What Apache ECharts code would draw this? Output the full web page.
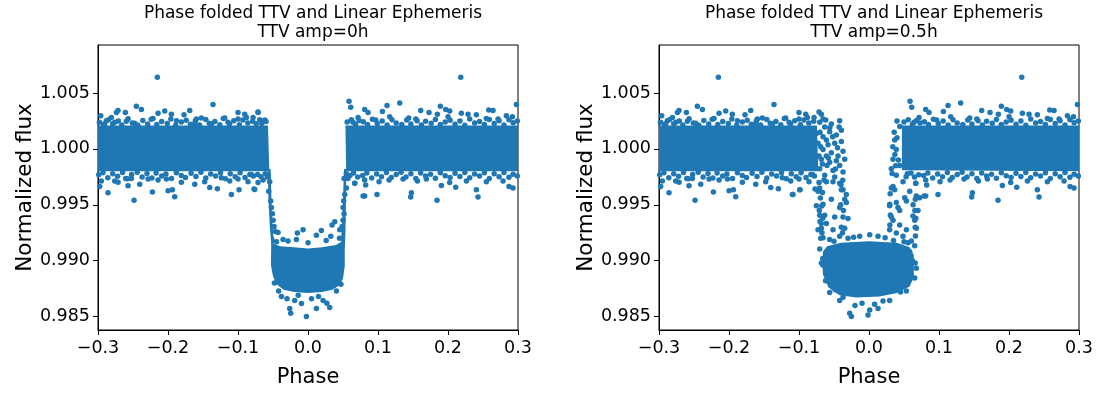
<!DOCTYPE html>
<html>
<head>
<meta charset="utf-8">
<script src="https://cdn.jsdelivr.net/npm/echarts@6/dist/echarts.min.js"></script>
<style>
    html, body { margin: 0; padding: 0; background: #fff; }
    #chart { width: 1098px; height: 393px; }
</style>
</head>
<body>
<div id="chart"></div>
<script>
var titles = ['Phase folded TTV and Linear Ephemeris\nTTV amp=0h', 'Phase folded TTV and Linear Ephemeris\nTTV amp=0.5h'];
var yTickValues = [0.985, 0.990, 0.995, 1.000, 1.005];

// out of transit points, the same in both panels
var outerUpper = [
    [-0.2152, 1.00641], [-0.2452, 1.00383], [-0.2380, 1.00354], [-0.1357, 1.00397], [-0.2714, 1.00345],
    [-0.2737, 1.00325], [-0.2609, 1.00325], [-0.2961, 1.00296], [-0.2809, 1.00282], [-0.2880, 1.00253],
    [-0.2047, 1.00339], [-0.2142, 1.00319], [-0.1952, 1.00311], [-0.1690, 1.00345], [-0.1771, 1.00305],
    [-0.1595, 1.00268], [-0.1523, 1.00276], [-0.1190, 1.00276], [-0.1000, 1.00325], [-0.0904, 1.00311],
    [-0.0785, 1.00282], [-0.1000, 1.00268], [-0.0880, 1.00282], [-0.2476, 1.00230],
    [-0.2214, 1.00273], [-0.1880, 1.00253], [-0.1618, 1.00225], [-0.1380, 1.00225], [-0.2595, 1.00247],
    [-0.2904, 1.00225], [-0.2761, 1.00239], [-0.1142, 1.00239],
    [0.2182, 1.00641], [0.0586, 1.00426], [0.0610, 1.00374], [0.1310, 1.00411], [0.1129, 1.00388],
    [0.0810, 1.00354], [0.0858, 1.00325], [0.1063, 1.00334], [0.1610, 1.00345], [0.1729, 1.00325],
    [0.1891, 1.00382], [0.1967, 1.00354], [0.2024, 1.00339], [0.2191, 1.00319], [0.2286, 1.00311],
    [0.2405, 1.00305], [0.2582, 1.00348], [0.2643, 1.00345], [0.2977, 1.00397], [0.2834, 1.00296],
    [0.2920, 1.00288], [0.1167, 1.00288], [0.1439, 1.00276], [0.1848, 1.00311], [0.2001, 1.00288],
    [0.0715, 1.00282], [0.0967, 1.00259], [0.0643, 1.00239], [0.1558, 1.00253], [0.2548, 1.00273],
    [0.2715, 1.00268]
];
var outerLower = [
    [-0.2857, 0.99607], [-0.2485, 0.99541], [-0.2223, 0.99615], [-0.1904, 0.99572], [-0.1999, 0.99627],
    [-0.1937, 0.99635], [-0.1095, 0.99592], [-0.0985, 0.99635], [-0.0771, 0.99641], [-0.2976, 0.99664],
    [-0.2952, 0.99713], [-0.2761, 0.99713], [-0.2714, 0.99702], [-0.2571, 0.99670], [-0.2604, 0.99736],
    [-0.2523, 0.99736], [-0.2404, 0.99684], [-0.2285, 0.99730], [-0.2142, 0.99722], [-0.2023, 0.99730],
    [-0.1809, 0.99702], [-0.1618, 0.99684], [-0.1476, 0.99707], [-0.1404, 0.99656], [-0.1295, 0.99644],
    [-0.1238, 0.99742], [-0.1118, 0.99713], [-0.1000, 0.99730], [-0.0857, 0.99707],
    [0.0810, 0.99578], [0.0986, 0.99592], [0.1477, 0.99607], [0.1467, 0.99569], [0.1843, 0.99541],
    [0.2110, 0.99658], [0.2405, 0.99635], [0.2429, 0.99569], [0.2929, 0.99650], [0.0667, 0.99693],
    [0.0810, 0.99722], [0.0824, 0.99678], [0.1015, 0.99707], [0.1158, 0.99722], [0.1358, 0.99730],
    [0.1563, 0.99713], [0.1691, 0.99730], [0.1905, 0.99673], [0.2024, 0.99699], [0.2263, 0.99713],
    [0.2548, 0.99707], [0.2786, 0.99713], [0.2872, 0.99664]
];
// ragged edge of the dense band
var edgeUpper = [
    [-0.298, 1.00238], [-0.292, 1.00218], [-0.285, 1.00262], [-0.279, 1.00226], [-0.271, 1.00249],
    [-0.266, 1.00215], [-0.257, 1.00271], [-0.251, 1.00231], [-0.243, 1.00212], [-0.236, 1.00255],
    [-0.229, 1.00224], [-0.224, 1.00265], [-0.216, 1.00219], [-0.209, 1.00246], [-0.201, 1.00228],
    [-0.196, 1.00268], [-0.189, 1.00213], [-0.181, 1.00241], [-0.174, 1.00257], [-0.168, 1.00221],
    [-0.161, 1.00250], [-0.155, 1.00214], [-0.146, 1.00263], [-0.141, 1.00229], [-0.133, 1.00245],
    [-0.126, 1.00217], [-0.121, 1.00272], [-0.112, 1.00223], [-0.106, 1.00252], [-0.098, 1.00216],
    [-0.093, 1.00259], [-0.086, 1.00233], [-0.079, 1.00248],
    [0.079, 1.00244], [0.085, 1.00219], [0.092, 1.00266], [0.099, 1.00228], [0.106, 1.00251],
    [0.113, 1.00214], [0.120, 1.00262], [0.126, 1.00232], [0.134, 1.00218], [0.141, 1.00258],
    [0.147, 1.00224], [0.154, 1.00269], [0.162, 1.00215], [0.168, 1.00247], [0.176, 1.00229],
    [0.182, 1.00264], [0.189, 1.00218], [0.196, 1.00242], [0.203, 1.00256], [0.210, 1.00222],
    [0.217, 1.00251], [0.224, 1.00213], [0.231, 1.00267], [0.238, 1.00231], [0.245, 1.00246],
    [0.252, 1.00219], [0.259, 1.00263], [0.266, 1.00227], [0.273, 1.00253], [0.280, 1.00215],
    [0.287, 1.00261], [0.293, 1.00234], [0.299, 1.00249]
];
var edgeLower = [
    [-0.299, 0.99768], [-0.293, 0.99786], [-0.286, 0.99742], [-0.279, 0.99779], [-0.272, 0.99755],
    [-0.265, 0.99789], [-0.258, 0.99733], [-0.252, 0.99771], [-0.244, 0.99792], [-0.237, 0.99749],
    [-0.230, 0.99781], [-0.223, 0.99739], [-0.217, 0.99785], [-0.209, 0.99758], [-0.203, 0.99776],
    [-0.195, 0.99736], [-0.188, 0.99788], [-0.181, 0.99762], [-0.175, 0.99745], [-0.167, 0.99783],
    [-0.160, 0.99754], [-0.153, 0.99791], [-0.146, 0.99741], [-0.139, 0.99775], [-0.132, 0.99759],
    [-0.125, 0.99787], [-0.118, 0.99733], [-0.111, 0.99779], [-0.104, 0.99752], [-0.097, 0.99788],
    [-0.090, 0.99744], [-0.083, 0.99772], [-0.078, 0.99758],
    [0.078, 0.99762], [0.084, 0.99785], [0.091, 0.99739], [0.098, 0.99776], [0.105, 0.99752],
    [0.112, 0.99789], [0.119, 0.99745], [0.126, 0.99771], [0.133, 0.99791], [0.140, 0.99748],
    [0.147, 0.99779], [0.154, 0.99735], [0.161, 0.99784], [0.168, 0.99757], [0.175, 0.99774],
    [0.182, 0.99738], [0.189, 0.99786], [0.196, 0.99761], [0.203, 0.99744], [0.210, 0.99782],
    [0.217, 0.99753], [0.224, 0.99790], [0.231, 0.99742], [0.238, 0.99775], [0.245, 0.99758],
    [0.252, 0.99786], [0.259, 0.99736], [0.266, 0.99778], [0.273, 0.99751], [0.280, 0.99789],
    [0.287, 0.99747], [0.293, 0.99773], [0.299, 0.99757]
];

// panel A (amp=0h)
var bandLeftA = [[-0.3, 1.0021], [-0.0572, 1.0021], [-0.0552, 0.9980], [-0.3, 0.9980]];
var bandRightA = [[0.0535, 1.0021], [0.3, 1.0021], [0.3, 0.9980], [0.0545, 0.9980]];
var ingressA = [
    [-0.0575, 0.9982], [-0.0535, 0.9982], [-0.0515, 0.9940], [-0.0495, 0.9922], [-0.046, 0.9916],
    [-0.0525, 0.9915], [-0.0545, 0.9930], [-0.0565, 0.9955]
];
var egressA = [
    [0.0515, 0.9982], [0.0548, 0.9982], [0.0540, 0.9950], [0.0535, 0.9925], [0.0525, 0.9912],
    [0.0470, 0.9918], [0.0490, 0.9935], [0.0500, 0.9955]
];
var floorA = [
    [-0.0525, 0.9916], [-0.040, 0.9913], [-0.020, 0.9912], [0.0, 0.9911], [0.020, 0.9912], [0.040, 0.9914],
    [0.0525, 0.9919], [0.0525, 0.9895], [0.050, 0.9884], [0.045, 0.9878], [0.035, 0.9874], [0.020, 0.9872],
    [0.0, 0.9871], [-0.020, 0.9872], [-0.035, 0.9874], [-0.045, 0.9879], [-0.050, 0.9886], [-0.053, 0.9896]
];
var dotsA = [
    [-0.0713, 1.00325], [-0.0761, 0.99636], [-0.0618, 1.00259], [-0.0642, 0.99722], [-0.0714, 1.00331],
    [-0.0714, 0.99699], [-0.0809, 0.99771], [-0.0740, 1.00225], [-0.0690, 1.00262], [-0.0660, 1.00228],
    [-0.0600, 1.00246], [-0.0720, 0.99772], [-0.0670, 0.99752], [-0.0610, 0.99779], [-0.0580, 0.99748],
    [-0.0571, 0.99765], [-0.0547, 0.99707], [-0.0561, 0.99621], [-0.0532, 0.99535],
    [-0.0523, 0.99477], [-0.0509, 0.99420], [-0.0499, 0.99363], [-0.0485, 0.99305], [-0.0466, 0.99262],
    [-0.0428, 0.99253], [0.0515, 0.99736], [0.0549, 0.99650], [0.0525, 0.99592], [0.0510, 0.99535],
    [0.0501, 0.99477], [0.0515, 0.99420], [0.0501, 0.99363], [0.0487, 0.99305], [0.0382, 0.99348],
    [0.0344, 0.99320], [0.0453, 0.99276], [0.0668, 0.99693], [0.0787, 0.99578], [0.0548, 0.99779],
    [0.0560, 1.00240], [0.0620, 1.00262], [0.0680, 1.00221], [0.0730, 1.00255], [0.0600, 0.99762],
    [0.0650, 0.99785], [0.0710, 0.99748], [0.0570, 0.99735],
    [-0.0285, 0.99176], [-0.0152, 0.99248], [-0.0071, 0.99276], [0.0120, 0.99228], [0.0191, 0.99271],
    [0.0325, 0.99219], [-0.0166, 0.99190], [0.0001, 0.99161], [-0.0356, 0.99190], [-0.0450, 0.99170],
    [0.0450, 0.99200], [0.0260, 0.99180], [-0.0261, 0.98573], [-0.0247, 0.98530], [-0.0023, 0.98501],
    [0.0120, 0.98573], [0.0215, 0.98645], [0.0310, 0.98582], [-0.0190, 0.98645], [-0.0380, 0.98679],
    [-0.0094, 0.98616], [0.0406, 0.98730], [0.0270, 0.98620], [-0.0300, 0.98660], [0.0050, 0.98660],
    [-0.0420, 0.98730], [0.0470, 0.98790], [-0.0480, 0.98800], [0.0150, 0.98680], [-0.0140, 0.98690]
];

// panel B (amp=0.5h)
var bandLeftB = [[-0.3, 1.0021], [-0.0745, 1.0021], [-0.0725, 0.9980], [-0.3, 0.9980]];
var bandRightB = [[0.047, 1.0021], [0.3, 1.0021], [0.3, 0.9980], [0.047, 0.9981]];
var floorB = [
    [-0.0660, 0.99080], [-0.0600, 0.99130], [-0.0400, 0.99160], [0.0000, 0.99175], [0.0400, 0.99160],
    [0.0580, 0.99120], [0.0640, 0.99050], [0.0640, 0.98850], [0.0580, 0.98770], [0.0400, 0.98710],
    [0.0150, 0.98680], [-0.0180, 0.98670], [-0.0420, 0.98690], [-0.0580, 0.98760], [-0.0660, 0.98880]
];
var dotsB = [
    [-0.0681, 1.00311], [-0.0657, 1.00268], [-0.0538, 1.00224], [-0.0419, 1.00253], [-0.0428, 1.00196],
    [-0.0562, 1.00153], [-0.0467, 1.00124], [-0.0395, 1.00066], [-0.0490, 1.00052], [-0.0609, 1.00081],
    [-0.0371, 0.99980], [-0.0443, 0.99937], [-0.0538, 0.99966], [-0.0657, 0.99995], [-0.0562, 0.99880],
    [-0.0419, 0.99851], [-0.0467, 0.99894], [-0.0371, 0.99794], [-0.0514, 0.99808], [-0.0633, 0.99765],
    [-0.0490, 0.99750], [-0.0704, 0.99822], [-0.0681, 0.99908], [-0.0585, 1.00038], [-0.0395, 1.00167],
    [-0.0633, 1.00196], [-0.0704, 1.00239], [-0.0347, 0.99908], [-0.0752, 1.00138], [-0.0728, 1.00052],
    [-0.0714, 0.99937], [-0.0657, 1.00110], [-0.0609, 0.99937], [-0.0600, 0.99851], [-0.0666, 0.99865],
    [-0.0714, 1.00331], [-0.0618, 1.00259], [-0.0642, 0.99722], [-0.0714, 0.99699], [-0.0809, 0.99771],
    [-0.0700, 1.00150], [-0.0690, 1.00020], [-0.0580, 0.99920], [-0.0520, 1.00110], [-0.0450, 1.00010],
    [-0.0560, 1.00190], [-0.0480, 0.99820],
    [-0.1085, 0.99592], [-0.0990, 0.99635], [-0.0728, 0.99621], [-0.0752, 0.99492], [-0.0657, 0.99506],
    [-0.0538, 0.99549], [-0.0419, 0.99477], [-0.0371, 0.99635], [-0.0347, 0.99549], [-0.0324, 0.99520],
    [-0.0704, 0.99406], [-0.0633, 0.99406], [-0.0490, 0.99391], [-0.0371, 0.99391], [-0.0300, 0.99377],
    [-0.0681, 0.99334], [-0.0609, 0.99334], [-0.0514, 0.99276], [-0.0347, 0.99291], [-0.0657, 0.99205],
    [-0.0562, 0.99190], [-0.0419, 0.99219], [-0.0728, 0.99276], [-0.0681, 0.99291], [-0.0609, 0.99707],
    [-0.0514, 0.99707], [-0.0419, 0.99693], [-0.0395, 0.99635], [-0.0324, 0.99592],
    [-0.0705, 0.99650], [-0.0695, 0.99560], [-0.0710, 0.99450], [-0.0700, 0.99350], [-0.0690, 0.99200],
    [-0.0665, 0.99610], [-0.0675, 0.99490], [-0.0660, 0.99380], [-0.0672, 0.99250], [-0.0375, 0.99720],
    [-0.0365, 0.99450], [-0.0378, 0.99250], [-0.0400, 0.99680], [-0.0405, 0.99500], [-0.0395, 0.99300],
    [0.0295, 0.99492], [0.0319, 0.99650], [0.0343, 0.99664], [0.0367, 0.99635], [0.0390, 0.99521],
    [0.0414, 0.99477], [0.0438, 0.99449], [0.0510, 0.99564], [0.0534, 0.99535], [0.0581, 0.99621],
    [0.0676, 0.99578], [0.0700, 0.99449], [0.0724, 0.99564], [0.0319, 0.99391], [0.0343, 0.99363],
    [0.0438, 0.99320], [0.0534, 0.99276], [0.0653, 0.99363], [0.0676, 0.99291], [0.0295, 0.99276],
    [0.0390, 0.99248], [0.0486, 0.99219], [0.0557, 0.99161], [0.0605, 0.99176], [0.0653, 0.99133],
    [0.0367, 1.00081], [0.0390, 0.99995], [0.0343, 0.99908], [0.0438, 0.99851], [0.0390, 0.99765],
    [0.0486, 0.99707], [0.0319, 0.99822], [0.0302, 0.99600], [0.0296, 0.99505], [0.0305, 0.99410],
    [0.0298, 0.99320], [0.0662, 0.99550], [0.0655, 0.99450], [0.0668, 0.99380], [0.0660, 0.99300],
    [0.0664, 0.99220], [0.0630, 0.99500], [0.0628, 0.99400], [0.0360, 1.00150], [0.0400, 1.00100],
    [0.0340, 1.00020], [0.0420, 0.99900], [0.0380, 0.99850], [0.0330, 0.99780], [0.0440, 1.00200],
    [0.0400, 1.00250], [0.0370, 0.99950], [0.0668, 0.99693], [0.0787, 0.99578], [0.0548, 0.99779],
    [0.0500, 1.00240], [0.0560, 1.00262], [0.0620, 1.00221], [0.0680, 1.00255], [0.0730, 1.00231],
    [0.0530, 0.99752], [0.0600, 0.99785], [0.0650, 0.99748], [0.0710, 0.99770],
    [-0.0276, 0.98529], [-0.0252, 0.98501], [-0.0014, 0.98515], [0.0129, 0.98572], [0.0010, 0.98558],
    [-0.0419, 0.98644], [-0.0562, 0.98716], [-0.0371, 0.98673], [-0.0657, 0.98960], [-0.0704, 0.99104],
    [0.0676, 0.98932], [0.0653, 0.98846], [0.0534, 0.98730], [0.0295, 0.98644], [-0.0133, 0.99219],
    [0.0129, 0.99219], [0.0010, 0.99233], [-0.0660, 0.99020], [-0.0620, 0.98820], [0.0620, 0.99000],
    [0.0580, 0.99080], [-0.0300, 0.99200], [0.0350, 0.99180], [-0.0100, 0.98620], [0.0200, 0.98640],
    [-0.0480, 0.98740], [0.0450, 0.98720], [-0.0200, 0.98600], [0.0080, 0.98610], [-0.0220, 0.99210],
    [0.0230, 0.99205], [-0.0500, 0.99175], [0.0500, 0.99170], [-0.0680, 0.98980], [0.0660, 0.98980]
];

var COLOR = '#1f77b4';
var FONT = 'DejaVu Sans';

function polygonSeries(points, idx) {
    return {
        type: 'custom',
        xAxisIndex: idx,
        yAxisIndex: idx,
        silent: true,
        data: [[0, 1]],
        renderItem: function (params, api) {
            var pts = points.map(function (p) { return api.coord(p); });
            return { type: 'polygon', shape: { points: pts }, style: { fill: COLOR } };
        }
    };
}

function dotSeries(points, idx) {
    return {
        type: 'scatter',
        xAxisIndex: idx,
        yAxisIndex: idx,
        symbolSize: 5.5,
        itemStyle: { color: COLOR, opacity: 1 },
        data: points
    };
}

function xAxisFor(idx) {
    return {
        type: 'value', gridIndex: idx, min: -0.3, max: 0.3, interval: 0.1,
        name: 'Phase', nameLocation: 'middle', nameGap: 37,
        nameTextStyle: { fontFamily: FONT, fontSize: 21, color: '#000' },
        axisLine: { show: true, onZero: false, lineStyle: { color: '#000', width: 1 } },
        axisTick: { show: true, length: 5, lineStyle: { color: '#000' } },
        splitLine: { show: false },
        axisLabel: {
            fontFamily: FONT, fontSize: 17.5, color: '#000', margin: 9, showMinLabel: true, showMaxLabel: true,
            formatter: function (v) {
                if (Math.abs(v) < 1e-9) return '0.0';
                return (v < 0 ? '\u2212' : '') + Math.abs(v).toFixed(1);
            }
        }
    };
}

function yAxisFor(idx) {
    return {
        type: 'value', gridIndex: idx, min: 0.9838, max: 1.0093,
        name: 'Normalized flux', nameLocation: 'middle', nameGap: 61,
        nameTextStyle: { fontFamily: FONT, fontSize: 21.5, color: '#000' },
        axisLine: { show: true, onZero: false, lineStyle: { color: '#000', width: 1 } },
        axisTick: { show: true, length: 5, customValues: yTickValues, lineStyle: { color: '#000' } },
        splitLine: { show: false },
        axisLabel: {
            fontFamily: FONT, fontSize: 17.5, color: '#000', margin: 8, customValues: yTickValues,
            formatter: function (v) { return v.toFixed(3); }
        }
    };
}

var chart = echarts.init(document.getElementById('chart'), null, { renderer: 'canvas' });

var grids = [
    { left: 98, top: 45, width: 420, height: 296, show: true, borderColor: '#000', borderWidth: 1 },
    { left: 659, top: 45, width: 420, height: 296, show: true, borderColor: '#000', borderWidth: 1 }
];

var shared = outerUpper.concat(outerLower, edgeUpper, edgeLower);

var series = [
    polygonSeries(bandLeftA, 0), polygonSeries(bandRightA, 0), polygonSeries(ingressA, 0),
    polygonSeries(egressA, 0), polygonSeries(floorA, 0),
    dotSeries(shared.concat(dotsA), 0),
    polygonSeries(bandLeftB, 1), polygonSeries(bandRightB, 1), polygonSeries(floorB, 1),
    dotSeries(shared.concat(dotsB), 1)
];

chart.setOption({
    animation: false,
    backgroundColor: '#fff',
    title: [
        { text: titles[0], left: 308, top: -1, textAlign: 'center',
          textStyle: { fontFamily: FONT, fontSize: 17, fontWeight: 'normal', color: '#000', lineHeight: 19 } },
        { text: titles[1], left: 869, top: -1, textAlign: 'center',
          textStyle: { fontFamily: FONT, fontSize: 17, fontWeight: 'normal', color: '#000', lineHeight: 19 } }
    ],
    grid: grids,
    xAxis: [xAxisFor(0), xAxisFor(1)],
    yAxis: [yAxisFor(0), yAxisFor(1)],
    series: series
});
</script>
</body>
</html>
